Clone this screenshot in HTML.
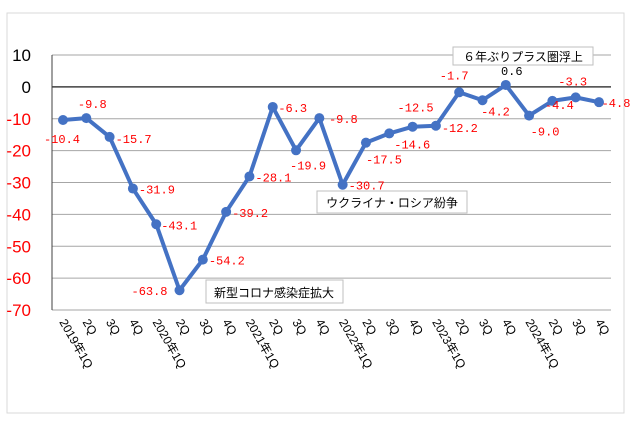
<!DOCTYPE html>
<html><head><meta charset="utf-8"><style>
body{margin:0;background:#fff;}
svg{display:block;font-family:"Liberation Sans","Noto Sans CJK JP",sans-serif;}
</style></head><body>
<svg id="chart" width="630" height="430">
<rect x="7" y="13" width="617" height="400" fill="#fff" stroke="#d9d9d9"/>
<g id="grid"></g><g id="yticks"></g><g id="xticks"></g><g id="series"></g><g id="labels"></g>
<g><rect x="453" y="47" width="140" height="18" fill="#fff" stroke="#bfbfbf"/><text x="523" y="61" text-anchor="middle" font-size="12">６年ぶりプラス圏浮上</text></g>
<g><rect x="317" y="191" width="150" height="22" fill="#fff" stroke="#bfbfbf"/><text x="392" y="207" text-anchor="middle" font-size="12">ウクライナ・ロシア紛争</text></g>
<g><rect x="206" y="280" width="137" height="23" fill="#fff" stroke="#bfbfbf"/><text x="274" y="297" text-anchor="middle" font-size="12">新型コロナ感染症拡大</text></g>
</svg>
<script>
const categories=["2019年1Q","2Q","3Q","4Q","2020年1Q","2Q","3Q","4Q","2021年1Q","2Q","3Q","4Q","2022年1Q","2Q","3Q","4Q","2023年1Q","2Q","3Q","4Q","2024年1Q","2Q","3Q","4Q"];
const values=[-10.4,-9.8,-15.7,-31.9,-43.1,-63.8,-54.2,-39.2,-28.1,-6.3,-19.9,-9.8,-30.7,-17.5,-14.6,-12.5,-12.2,-1.7,-4.2,0.6,-9.0,-4.4,-3.3,-4.8];
const yTicks=[10,0,-10,-20,-30,-40,-50,-60,-70];
const labelOffsets=[[-1,18],[6,-15],[24,1],[24,0],[23,0],[-30,0],[24,0],[24,0],[24,0],[20,0],[12,14],[24,0],[24,0],[18,16],[23,10],[3,-20],[24,1],[-5,-18],[13,10],[6,-15],[16,15],[7,3],[-3,-17],[17,0]];
const NS="http://www.w3.org/2000/svg";
const L=52,R=611,T=55,B=310,yMax=10,yMin=-70;
const y=v=>T+(yMax-v)/(yMax-yMin)*(B-T);
const x=i=>63+i*(599-63)/(categories.length-1);
function mk(t,a,p){const e=document.createElementNS(NS,t);for(const k in a)e.setAttribute(k,a[k]);p.appendChild(e);return e;}
const grid=document.getElementById('grid'),yt=document.getElementById('yticks'),xt=document.getElementById('xticks'),se=document.getElementById('series'),lb=document.getElementById('labels');
yTicks.forEach(v=>{
 const g=mk('line',{x1:L,x2:R,y1:y(v),y2:y(v),stroke:v===0?'#404040':'#a6a6a6','stroke-width':v===0?1.5:1},grid);
 
 
 const t=mk('text',{x:31,y:y(v)+6,'text-anchor':'end','font-size':17,fill:v>=0?'#000':'#ff0000'},yt);
 t.textContent=v;
 
 
});
const ax=mk('line',{x1:L,x2:L,y1:T,y2:B,stroke:'#404040'},grid);


categories.forEach((c,i)=>{
 const t=mk('text',{x:x(i)-4,y:322,'font-size':12,transform:`rotate(60 ${x(i)-4} 322)`,fill:'#000'},xt);
 t.textContent=c;
 
 
});
const pl=mk('polyline',{points:values.map((v,i)=>x(i)+','+y(v)).join(' '),fill:'none',stroke:'#4472c4','stroke-width':4,'stroke-linejoin':'round'},se);


values.forEach((v,i)=>{
 const c=mk('circle',{cx:x(i),cy:y(v),r:5,fill:'#4472c4'},se);
 
 
 const o=labelOffsets[i]||[20,0];
 const t=mk('text',{x:x(i)+o[0],y:y(v)+o[1]+5,'text-anchor':'middle','font-size':12,'font-family':'Liberation Mono, monospace',fill:v>=0?'#000':'#ff0000'},lb);
 t.textContent=v.toFixed(1);
 
 
});
</script>
</body></html>
